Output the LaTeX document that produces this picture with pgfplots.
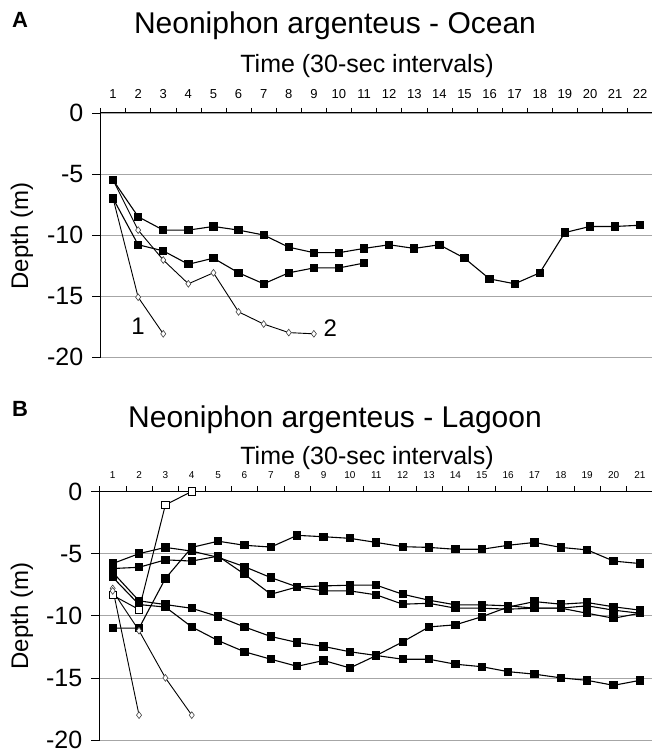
\documentclass[border=0pt]{standalone}
\usepackage{pgfplots}
\pgfplotsset{compat=1.18}
\usepackage{fontspec}
\setmainfont{Liberation Sans}
\begin{document}
\begin{tikzpicture}
\useasboundingbox (0pt,0pt) rectangle (652pt,753pt);
\pgfplotsset{
  base/.style={
    scale only axis,
    axis x line=top, axis y line=left,
    axis line style={-, line width=1pt},
    ymin=-20, ymax=0, ytick={-20,-15,...,0},
    ymajorgrids, major grid style={gray!70, line width=0.6pt},
    tick align=outside,
    /pgf/number format/assume math mode=true,
    yticklabel style={font=\fontsize{25}{25}\selectfont, inner sep=0pt, xshift=-9pt},
    major tick length=8pt,
    minor tick length=5pt,
    major x tick style={draw=none},
    tick style={black, line width=0.6pt},
    clip=false,
  },
  sq/.style={black, line width=1.1pt, mark=square*, mark size=3.6pt, mark options={solid, fill=black}},
  dm/.style={black, line width=0.9pt, mark=diamond*, mark size=3.4pt, mark options={solid, fill=white, draw=black!75, line width=0.6pt}},
  hs/.style={black, line width=1pt, mark=square*, mark size=3.6pt, mark options={solid, fill=white, line width=0.8pt}},
}
% ---------------- Panel A ----------------
\node[font=\bfseries\fontsize{22}{22}\selectfont] at (20pt,733pt) {A};
\node[font=\fontsize{30}{30}\selectfont] at (335pt,727pt) {Neoniphon argenteus - Ocean};
\node[font=\fontsize{25}{25}\selectfont] at (367pt,687pt) {Time (30-sec intervals)};
\node[font=\fontsize{24}{24}\selectfont, rotate=90] at (22pt,517pt) {Depth (m)};
\begin{axis}[base,
  at={(100.5pt,396pt)}, anchor=south west,
  width=551pt, height=244pt,
  xmin=0.5, xmax=22.45,
  xtick={1,...,22},
  minor xtick={0.5,1.5,...,22.5},
  xticklabel style={font=\fontsize{13}{13}\selectfont, inner sep=0pt, yshift=6pt},
]
\addplot[dm] coordinates {(1,-7.0)(2,-15.1)(3,-18.1)};
\addplot[dm] coordinates {(1,-5.5)(2,-9.6)(3,-12.05)(4,-14.0)(5,-13.1)(6,-16.3)(7,-17.3)(8,-18.0)(9,-18.1)};
\addplot[sq] coordinates {(1,-5.5)(2,-8.5)(3,-9.6)(4,-9.6)(5,-9.3)(6,-9.6)(7,-10.0)(8,-11.0)(9,-11.45)(10,-11.45)(11,-11.1)(12,-10.8)(13,-11.1)(14,-10.8)(15,-11.9)(16,-13.6)(17,-14.0)(18,-13.1)(19,-9.8)(20,-9.3)(21,-9.3)(22,-9.2)};
\addplot[sq] coordinates {(1,-7.0)(2,-10.8)(3,-11.3)(4,-12.4)(5,-11.9)(6,-13.1)(7,-14.0)(8,-13.1)(9,-12.7)(10,-12.7)(11,-12.3)};
\node[font=\fontsize{24}{24}\selectfont] at (axis cs:2.0,-17.5) {1};
\node[font=\fontsize{24}{24}\selectfont] at (axis cs:9.65,-17.6) {2};
\end{axis}
% ---------------- Panel B ----------------
\node[font=\bfseries\fontsize{22}{22}\selectfont] at (20pt,344pt) {B};
\node[font=\fontsize{30}{30}\selectfont] at (335pt,333pt) {Neoniphon argenteus - Lagoon};
\node[font=\fontsize{25}{25}\selectfont] at (367pt,295pt) {Time (30-sec intervals)};
\node[font=\fontsize{24}{24}\selectfont, rotate=90] at (22pt,137pt) {Depth (m)};
\begin{axis}[base,
  at={(99.5pt,13pt)}, anchor=south west,
  width=552.3pt, height=248.5pt,
  xmin=0.5, xmax=21.45,
  xtick={1,...,21},
  minor xtick={0.5,1.5,...,21.5},
  xticklabel style={font=\fontsize{10}{10}\selectfont, inner sep=0pt, yshift=5pt},
]
\addplot[sq] coordinates {(1,-11.0)(2,-11.0)(3,-7.0)(4,-4.5)(5,-4.0)(6,-4.33)(7,-4.47)(8,-3.53)(9,-3.64)(10,-3.77)(11,-4.1)(12,-4.44)(13,-4.5)(14,-4.65)(15,-4.65)(16,-4.33)(17,-4.1)(18,-4.5)(19,-4.7)(20,-5.6)(21,-5.8)};
\addplot[sq] coordinates {(1,-5.8)(2,-5.0)(3,-4.5)(4,-4.8)(5,-5.3)(6,-6.05)(7,-6.93)(8,-7.68)(9,-8.0)(10,-8.0)(11,-8.32)(12,-9.07)(13,-9.0)(14,-9.39)(15,-9.39)(16,-9.47)(17,-9.39)(18,-9.39)(19,-9.8)(20,-10.2)(21,-9.8)};
\addplot[sq] coordinates {(1,-6.2)(2,-6.1)(3,-5.5)(4,-5.6)(5,-5.2)(6,-6.66)(7,-8.27)(8,-7.68)(9,-7.6)(10,-7.54)(11,-7.54)(12,-8.27)(13,-8.75)(14,-9.12)(15,-9.12)(16,-9.2)(17,-9.39)(18,-9.39)(19,-9.2)(20,-9.55)(21,-9.8)};
\addplot[sq] coordinates {(1,-6.9)(2,-9.1)(3,-9.3)(4,-10.9)(5,-12.0)(6,-12.9)(7,-13.5)(8,-14.07)(9,-13.6)(10,-14.2)(11,-13.2)(12,-12.1)(13,-10.9)(14,-10.73)(15,-10.08)(16,-9.3)(17,-8.86)(18,-9.07)(19,-8.94)(20,-9.28)(21,-9.55)};
\addplot[sq] coordinates {(1,-6.5)(2,-8.8)(3,-9.1)(4,-9.4)(5,-10.06)(6,-10.9)(7,-11.67)(8,-12.15)(9,-12.47)(10,-12.9)(11,-13.2)(12,-13.5)(13,-13.5)(14,-13.9)(15,-14.1)(16,-14.5)(17,-14.7)(18,-15.0)(19,-15.2)(20,-15.6)(21,-15.2)};
\addplot[hs] coordinates {(1,-8.35)(2,-9.5)(3,-1.07)(4,0)};
\addplot[dm] coordinates {(1,-7.8)(2,-18.0)};
\addplot[dm] coordinates {(1,-8.0)(2,-11.2)(3,-15.0)(4,-18.0)};
\end{axis}
\end{tikzpicture}
\end{document}
